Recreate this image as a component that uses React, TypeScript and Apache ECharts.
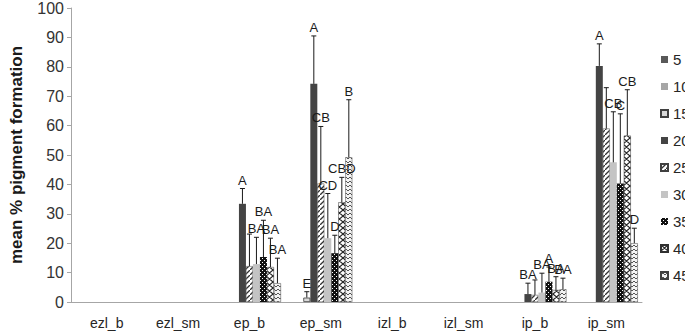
import React, { useEffect, useRef } from "react";
import * as echarts from "echarts";

const categories = ["ezl_b", "ezl_sm", "ep_b", "ep_sm", "izl_b", "izl_sm", "ip_b", "ip_sm"];
const seriesNames = ["5", "10", "15", "20", "25", "30", "35", "40", "45"];
const yTicks = { min: 0, max: 100, interval: 10 };

// mean values
const v5 = [0, 0, 0, 0, 0, 0, 0, 0];
const v10 = [0, 0, 0, 0, 0, 0, 0, 0];
const v15 = [0, 0, 0, 1.5, 0, 0, 0, 0];
const v20 = [0, 0, 33.4, 74.2, 0, 0, 2.7, 80.3];
const v25 = [0, 0, 12.2, 40.3, 0, 0, 2.4, 59.0];
const v30 = [0, 0, 12.9, 21.7, 0, 0, 3.2, 47.5];
const v35 = [0, 0, 15.3, 16.6, 0, 0, 6.9, 40.3];
const v40 = [0, 0, 11.9, 33.9, 0, 0, 4.1, 56.6];
const v45 = [0, 0, 6.4, 49.2, 0, 0, 4.3, 20.0];

// error (upper) amounts
const e5 = [0, 0, 0, 0, 0, 0, 0, 0];
const e10 = [0, 0, 0, 0, 0, 0, 0, 0];
const e15 = [0, 0, 0, 2.0, 0, 0, 0, 0];
const e20 = [0, 0, 5.2, 16.3, 0, 0, 3.7, 7.5];
const e25 = [0, 0, 10.9, 19.4, 0, 0, 5.1, 13.9];
const e30 = [0, 0, 9.1, 15.2, 0, 0, 6.6, 17.2];
const e35 = [0, 0, 12.5, 6.1, 0, 0, 5.0, 23.7];
const e40 = [0, 0, 9.8, 8.5, 0, 0, 4.5, 15.6];
const e45 = [0, 0, 8.5, 19.6, 0, 0, 3.8, 5.1];

// significance letters
const l5 = ["", "", "", "", "", "", "", ""];
const l10 = ["", "", "", "", "", "", "", ""];
const l15 = ["", "", "", "E", "", "", "", ""];
const l20 = ["", "", "A", "A", "", "", "BA", "A"];
const l25 = ["", "", "", "CB", "", "", "", ""];
const l30 = ["", "", "BA", "CD", "", "", "BA", "CB"];
const l35 = ["", "", "BA", "D", "", "", "A", "C"];
const l40 = ["", "", "BA", "CBD", "", "", "BA", "CB"];
const l45 = ["", "", "BA", "B", "", "", "BA", "D"];

const values = [v5, v10, v15, v20, v25, v30, v35, v40, v45];
const errors = [e5, e10, e15, e20, e25, e30, e35, e40, e45];
const letters = [l5, l10, l15, l20, l25, l30, l35, l40, l45];

const BAR_W = 7;
const FONT = "'Liberation Sans', Arial, sans-serif";

function makeCanvas(w: number, h: number, draw: (ctx: CanvasRenderingContext2D) => void) {
  const c = document.createElement("canvas");
  c.width = w;
  c.height = h;
  const ctx = c.getContext("2d")!;
  draw(ctx);
  return c;
}

function patterns() {
  const hatch = makeCanvas(5, 5, (ctx) => {
    ctx.fillStyle = "#ffffff";
    ctx.fillRect(0, 0, 5, 5);
    ctx.strokeStyle = "#333333";
    ctx.lineWidth = 1.3;
    ctx.beginPath();
    ctx.moveTo(-1, 6);
    ctx.lineTo(6, -1);
    ctx.stroke();
  });
  const dots = makeCanvas(4, 4, (ctx) => {
    ctx.fillStyle = "#111111";
    ctx.fillRect(0, 0, 4, 4);
    ctx.fillStyle = "#ffffff";
    ctx.fillRect(0, 0, 1, 1);
    ctx.fillRect(2, 2, 1, 1);
  });
  const zig = makeCanvas(7, 6, (ctx) => {
    ctx.fillStyle = "#ffffff";
    ctx.fillRect(0, 0, 7, 6);
    ctx.strokeStyle = "#222222";
    ctx.lineWidth = 1.1;
    ctx.beginPath();
    ctx.moveTo(0, 0);
    ctx.lineTo(3.5, 3);
    ctx.lineTo(7, 0);
    ctx.moveTo(0, 6);
    ctx.lineTo(3.5, 3);
    ctx.lineTo(7, 6);
    ctx.stroke();
  });
  const fine = makeCanvas(4, 4, (ctx) => {
    ctx.fillStyle = "#f4f4f4";
    ctx.fillRect(0, 0, 4, 4);
    ctx.strokeStyle = "#444444";
    ctx.lineWidth = 0.9;
    ctx.beginPath();
    ctx.moveTo(0, 3);
    ctx.lineTo(2, 1);
    ctx.lineTo(4, 3);
    ctx.stroke();
  });
  return { hatch, dots, zig, fine };
}

export default function App() {
  const ref = useRef<HTMLDivElement>(null);

  useEffect(() => {
    if (!ref.current) return;
    const chart = echarts.init(ref.current, undefined, { renderer: "svg" });
    const p = patterns();
    const pat = (img: HTMLCanvasElement) => ({ image: img, repeat: "repeat" } as any);

    const styles: any[] = [
      { color: "#595959" },
      { color: "#a6a6a6" },
      { color: "#d9d9d9", borderColor: "#404040", borderWidth: 0.8 },
      { color: "#444444" },
      { color: pat(p.hatch), borderColor: "#404040", borderWidth: 0.5 },
      { color: "#c4c4c4" },
      { color: pat(p.dots) },
      { color: pat(p.zig), borderColor: "#303030", borderWidth: 0.5 },
      { color: pat(p.fine), borderColor: "#404040", borderWidth: 0.5 },
    ];

    const barSeries = seriesNames.map((name, si) => ({
      name,
      type: "bar",
      barWidth: BAR_W,
      barGap: "0%",
      data: values[si].map((v) => (v === 0 ? "-" : v)),
      itemStyle: styles[si],
      silent: true,
    }));

    const errItems: { cat: number; si: number; v: number; e: number; t: string }[] = [];
    values.forEach((arr, si) => {
      arr.forEach((v, ci) => {
        if (v > 0) errItems.push({ cat: ci, si, v, e: errors[si][ci], t: letters[si][ci] });
      });
    });

    const errSeries = {
      name: "err",
      type: "custom",
      silent: true,
      z: 10,
      data: errItems.map((d) => [d.cat, d.v, d.v + d.e]),
      encode: { x: 0, y: [1, 2] },
      renderItem: (params: any, api: any) => {
        const d = errItems[params.dataIndex];
        const base = api.coord([d.cat, d.v]);
        const top = api.coord([d.cat, d.v + d.e]);
        const x = base[0] + (d.si - (seriesNames.length - 1) / 2) * BAR_W;
        const children: any[] = [
          {
            type: "line",
            shape: { x1: x, y1: base[1], x2: x, y2: top[1] },
            style: { stroke: "#1a1a1a", lineWidth: 1 },
          },
          {
            type: "line",
            shape: { x1: x - 2.5, y1: top[1], x2: x + 2.5, y2: top[1] },
            style: { stroke: "#1a1a1a", lineWidth: 1 },
          },
        ];
        if (d.t) {
          children.push({
            type: "text",
            x: x,
            y: top[1] - 2,
            style: {
              text: d.t,
              fill: "#1a1a1a",
              font: `13px ${FONT}`,
              textAlign: "center",
              textVerticalAlign: "bottom",
            },
          });
        }
        return { type: "group", children };
      },
    };

    chart.setOption({
      animation: false,
      backgroundColor: "#ffffff",
      textStyle: { fontFamily: FONT },
      grid: { left: 61, right: 43, top: 5, bottom: 33, containLabel: false },
      legend: {
        data: seriesNames,
        orient: "vertical",
        left: 655,
        top: 47,
        itemWidth: 7,
        itemHeight: 7,
        itemGap: 12,
        icon: "rect",
        selectedMode: false,
        textStyle: { fontSize: 15, color: "#262626", lineHeight: 15, fontFamily: FONT },
      },
      xAxis: {
        type: "category",
        data: categories,
        axisLine: { lineStyle: { color: "#a6a6a6", width: 1 } },
        axisTick: { show: false },
        axisLabel: { fontSize: 14, color: "#262626", margin: 14, fontFamily: FONT },
      },
      yAxis: {
        type: "value",
        min: yTicks.min,
        max: yTicks.max,
        interval: yTicks.interval,
        name: "mean % pigment formation",
        nameLocation: "middle",
        nameGap: 46,
        nameTextStyle: { fontSize: 17, fontWeight: "bold", color: "#1a1a1a", fontFamily: FONT },
        axisLine: { show: true, lineStyle: { color: "#a6a6a6", width: 1 } },
        axisTick: { show: true, length: 4, lineStyle: { color: "#a6a6a6" } },
        splitLine: { show: false },
        axisLabel: { fontSize: 16, color: "#333333", margin: 7, fontFamily: FONT },
      },
      series: [...barSeries, errSeries],
    });

    return () => chart.dispose();
  }, []);

  return (
    <div
      ref={ref}
      style={{ position: "fixed", left: 0, top: 0, width: 685, height: 335 }}
    />
  );
}
